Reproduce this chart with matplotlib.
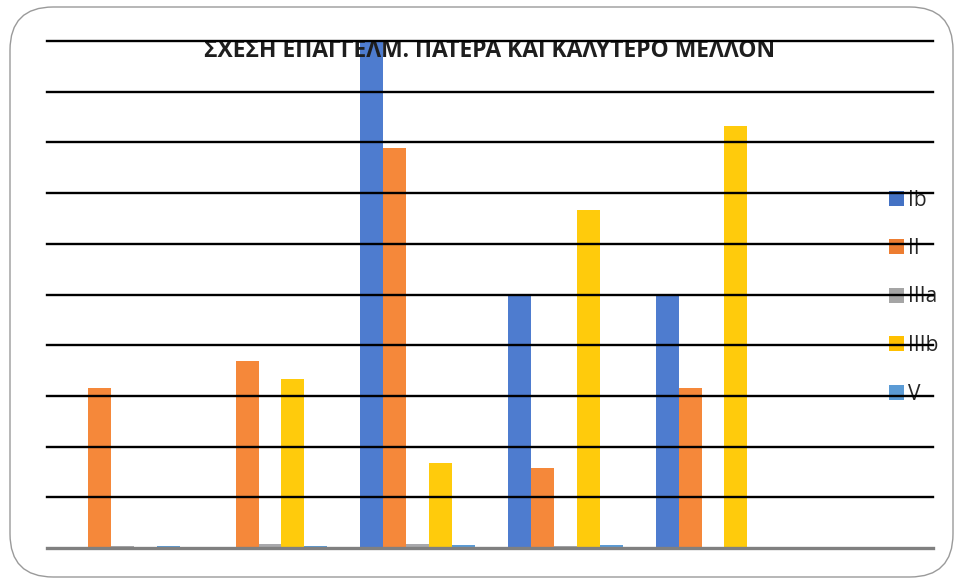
import matplotlib
matplotlib.use("Agg")
import matplotlib.pyplot as plt
from matplotlib.patches import FancyBboxPatch, Patch
import numpy as np

title = "ΣΧΕΣΗ ΕΠΑΓΓΕΛΜ. ΠΑΤΕΡΑ ΚΑΙ ΚΑΛΥΤΕΡΟ ΜΕΛΛΟΝ"
categories = ["1", "2", "3", "4", "5", "6"]
series_names = ["Ib", "II", "IIIa", "IIIb", "V"]
ib = [0, 0, 100, 50, 50, 0]
ii = [31.6, 36.8, 78.9, 15.8, 31.6, 0]
iiia = [0.4, 0.8, 0.8, 0.4, 0, 0]
iiib = [0, 33.3, 16.7, 66.7, 83.3, 0]
v = [0.4, 0.4, 0.6, 0.6, 0, 0]
bar_colors = ["#4E7CCF", "#F5883A", "#A9A9AC", "#FFCB0C", "#5B9BD5"]
legend_colors = ["#4472C4", "#ED7D31", "#A5A5A5", "#FFC000", "#5B9BD5"]

plt.rcParams['font.family'] = ['Open Sans', 'DejaVu Sans']

W, H = 959, 579
fig = plt.figure(figsize=(W / 100, H / 100), dpi=100)
fig.patch.set_facecolor("white")

# rounded chart frame
frame = FancyBboxPatch((10 / W, 2 / H), 943 / W, 570 / H,
                       boxstyle="round,pad=0,rounding_size=0.045",
                       transform=fig.transFigure, facecolor="none",
                       edgecolor="#9a9a9a", linewidth=1.0, mutation_aspect=W / H)
fig.patches.append(frame)

left, right, top, bottom = 47, 933, 41, 548
ax = fig.add_axes([left / W, (H - bottom) / H, (right - left) / W, (bottom - top) / H])
ax.set_facecolor("none")

data = [ib, ii, iiia, iiib, v]
n = len(series_names)
x = np.arange(len(categories))
bw = 0.155
for i, (name, vals) in enumerate(zip(series_names, data)):
    ax.bar(x + (i - (n - 1) / 2) * bw + 0.01, vals, width=bw, color=bar_colors[i],
           label=name, zorder=1, linewidth=0)

ax.set_xlim(-0.5, len(categories) - 0.5)
ax.set_ylim(0, 100)
for y in range(10, 101, 10):
    ax.axhline(y, color="black", linewidth=1.7, zorder=3, clip_on=False)

for s in ["top", "left", "right"]:
    ax.spines[s].set_visible(False)
ax.spines["bottom"].set_color("#808080")
ax.spines["bottom"].set_linewidth(2.4)
ax.set_xticks(x)
ax.set_xticklabels([])
ax.tick_params(axis="both", length=0)
ax.set_yticks([])

ax.text(0.5, 1 - 10 / (bottom - top), title, transform=ax.transAxes, ha="center",
        va="center", fontsize=16.5, fontweight="bold", color="#1e1e1e", zorder=1)

leg_handles = [Patch(facecolor=c, edgecolor="none") for c in legend_colors]
leg = ax.legend(leg_handles, series_names, loc="center left",
                bbox_to_anchor=(889 / W, (H - 297) / H), bbox_transform=fig.transFigure,
                frameon=False, fontsize=15, handlelength=0.73, handleheight=0.73,
                handletextpad=0.2, labelspacing=1.32, borderpad=0, borderaxespad=0)
leg.set_zorder(1)
for t in leg.get_texts():
    t.set_color("#262626")

fig.savefig("out.png", dpi=100)
